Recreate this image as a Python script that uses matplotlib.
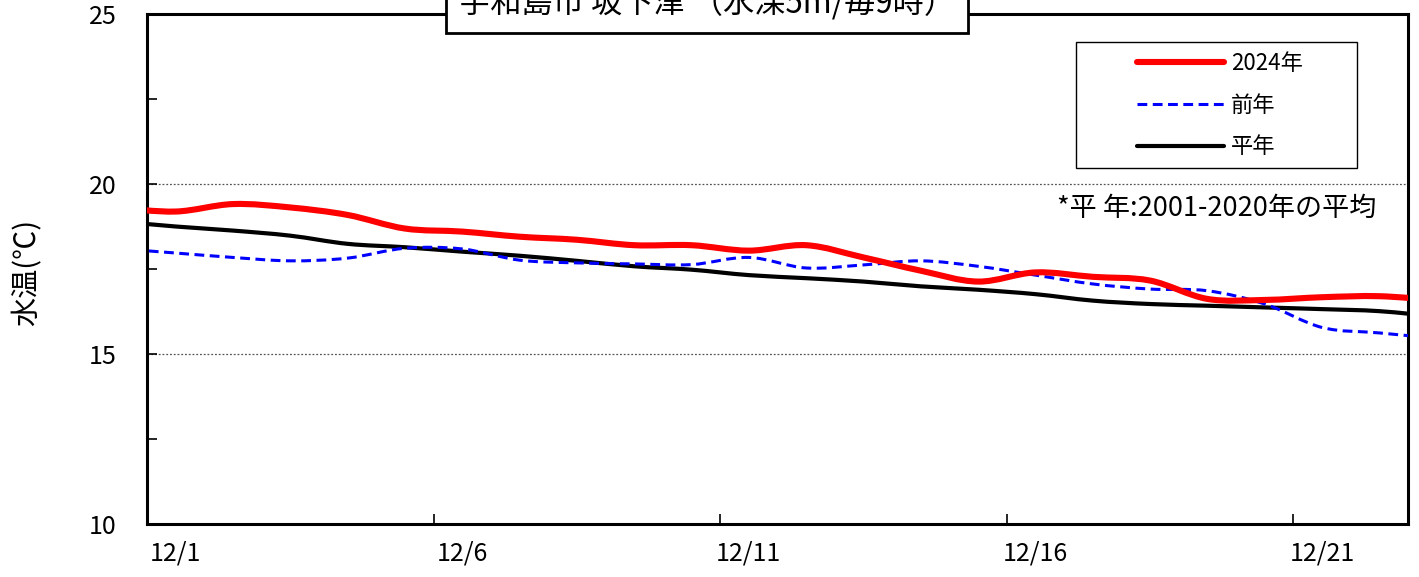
import matplotlib
matplotlib.use("Agg")
import matplotlib.pyplot as plt
from matplotlib.path import Path
from matplotlib.patches import PathPatch, Rectangle
from matplotlib.lines import Line2D

plt.rcParams['font.family'] = ['Noto Sans CJK JP', 'DejaVu Sans']

# 日付 (11/30 と 12/23 は端の線の続きとして読み取った値)
dates = ['11/30'] + [f'12/{d}' for d in range(1, 23)] + ['12/23']
tick_labels = ['12/1', '12/6', '12/11', '12/16', '12/21']

temp_2024 = [19.30, 19.19, 19.41, 19.31, 19.09, 18.69, 18.60, 18.45, 18.36, 18.20,
             18.20, 18.04, 18.20, 17.84, 17.45, 17.13, 17.40, 17.27, 17.16, 16.62,
             16.59, 16.67, 16.70, 16.58]
temp_prev = [18.10, 17.97, 17.84, 17.74, 17.82, 18.11, 18.09, 17.76, 17.68, 17.65,
             17.63, 17.84, 17.53, 17.62, 17.74, 17.58, 17.32, 17.06, 16.91, 16.86,
             16.47, 15.78, 15.62, 15.46]
temp_avg = [18.90, 18.75, 18.63, 18.48, 18.24, 18.14, 18.01, 17.89, 17.74, 17.58,
            17.48, 17.32, 17.23, 17.13, 16.99, 16.89, 16.76, 16.57, 16.47, 16.42,
            16.37, 16.32, 16.26, 16.10]


def smooth_path(x, y):
    # Excel の「スムージング」風にベジェ曲線で結ぶ
    verts = [(x[0], y[0])]
    codes = [Path.MOVETO]
    n = len(x)
    for i in range(n - 1):
        xa, ya = (x[i - 1], y[i - 1]) if i > 0 else (x[i], y[i])
        xb, yb = (x[i + 2], y[i + 2]) if i + 2 < n else (x[i + 1], y[i + 1])
        c1 = (x[i] + (x[i + 1] - xa) / 6, y[i] + (y[i + 1] - ya) / 6)
        c2 = (x[i + 1] - (xb - x[i]) / 6, y[i + 1] - (yb - y[i]) / 6)
        verts += [c1, c2, (x[i + 1], y[i + 1])]
        codes += [Path.CURVE4] * 3
    return Path(verts, codes)


xs = list(range(len(dates)))

fig = plt.figure(figsize=(14.19, 5.77), dpi=100)
ax = fig.add_axes([147 / 1419, 53 / 577, 1261 / 1419, 510 / 577])

ax.add_patch(PathPatch(smooth_path(xs, temp_avg), facecolor='none', edgecolor='black',
                       lw=3.0, capstyle='round', zorder=3))
ax.add_patch(PathPatch(smooth_path(xs, temp_prev), facecolor='none', edgecolor='#0000ff',
                       lw=2.2, linestyle=(0, (3.2, 1.8)), zorder=4))
ax.add_patch(PathPatch(smooth_path(xs, temp_2024), facecolor='none', edgecolor='#ff0000',
                       lw=4.4, capstyle='round', zorder=5))

ax.set_xlim(0.5, 22.5)
ax.set_ylim(10, 25)

# 軸
ax.set_yticks([10, 15, 20, 25])
ax.set_yticks([12.5, 17.5, 22.5], minor=True)
ax.tick_params(axis='y', which='both', direction='in', length=7, width=1.2,
               labelsize=18, pad=22, colors='black')
ax.set_xticks([dates.index(t) for t in tick_labels])
ax.set_xticklabels(tick_labels)
ax.set_xticks([5.5, 10.5, 15.5, 20.5], minor=True)
ax.tick_params(axis='x', which='major', length=0, labelsize=18, pad=12)
ax.tick_params(axis='x', which='minor', direction='in', length=7, width=1.2)
for s in ax.spines.values():
    s.set_linewidth(2.2)

for g in [15, 20]:
    ax.axhline(g, color='#555555', lw=0.9, linestyle=(0, (1.5, 1.5)), zorder=1)

fig.text(28 / 1419, 1 - 272 / 577, '水温(℃)', rotation=90, ha='center', va='center', fontsize=21)

# タイトル (上端で切れている)
fig.text(707 / 1419, 1 - 3 / 577, '宇和島市 坂下津 （水深5m/毎9時）', ha='center', va='center',
         fontsize=22.5, zorder=10,
         bbox=dict(boxstyle='square,pad=0.42', facecolor='white', edgecolor='black', lw=2.0))

# 凡例
handles = [
    Line2D([], [], color='#ff0000', lw=4.4, solid_capstyle='round'),
    Line2D([], [], color='#0000ff', lw=2.2, linestyle=(0, (3.2, 1.8))),
    Line2D([], [], color='black', lw=3.0, solid_capstyle='round'),
]
ax.add_patch(Rectangle(((1076 - 147) / 1261, (524 - 168) / 510), 281 / 1261, 126 / 510,
                       transform=ax.transAxes, facecolor='white', edgecolor='black', lw=1.0, zorder=6))
leg = ax.legend(handles, ['2024年', '前年', '平年'], loc='center',
                bbox_to_anchor=((1220 - 147) / 1261, (524 - 105) / 510),
                frameon=False, fontsize=16, handlelength=3.9, handletextpad=0.35,
                labelspacing=0.85)
leg.set_zorder(7)

ax.text((1376 - 147) / 1261, (524 - 208) / 510, '*平 年:2001-2020年の平均', transform=ax.transAxes,
        ha='right', va='center', fontsize=19.5)

fig.savefig('out.png', dpi=100)
